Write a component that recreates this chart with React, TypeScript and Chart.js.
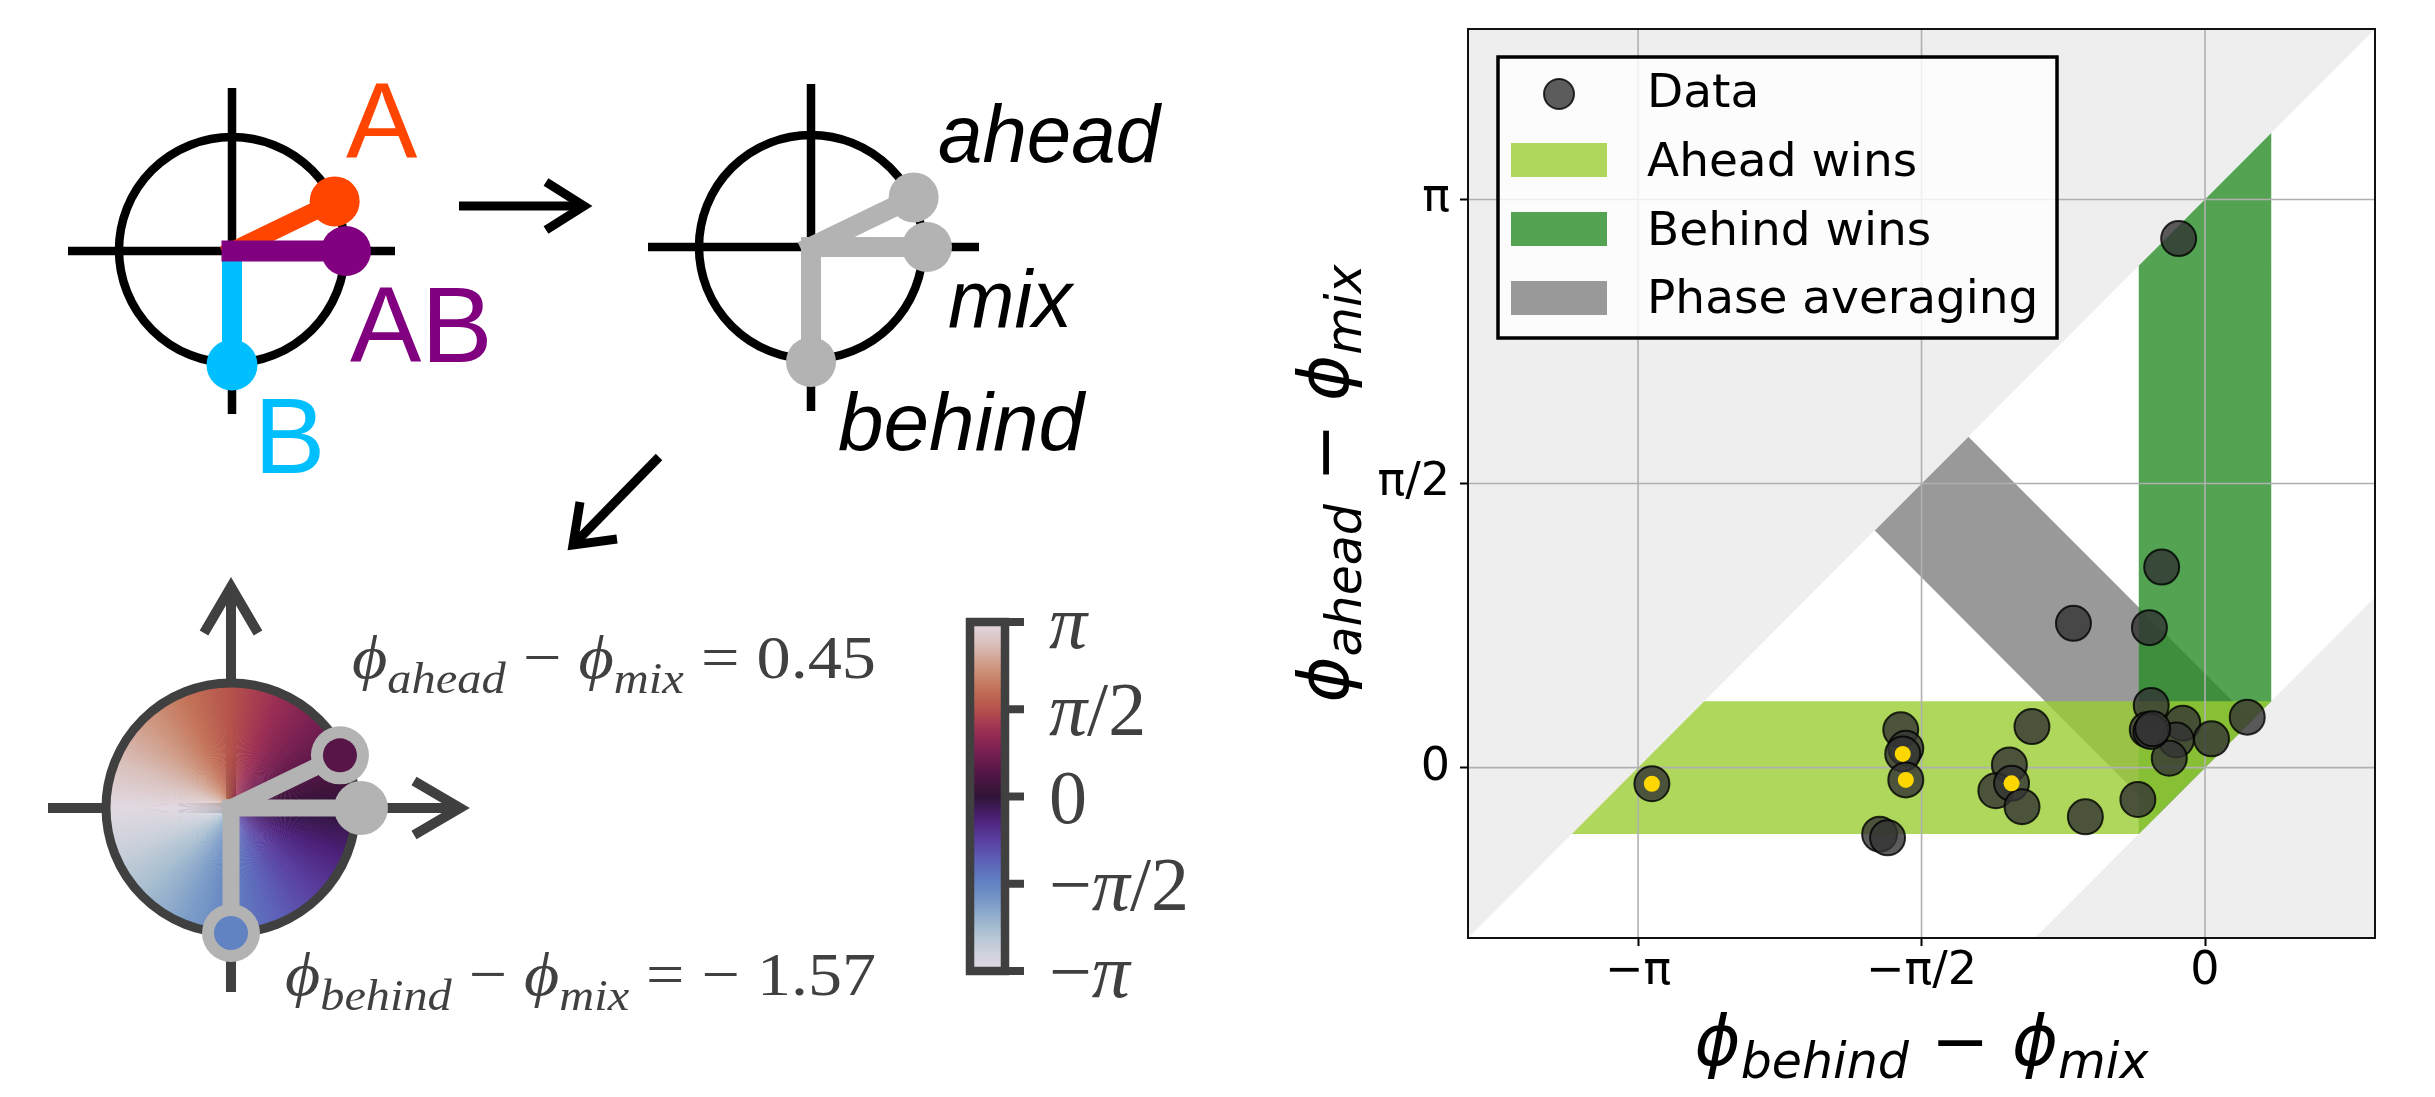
import React, { useEffect, useRef } from 'react';
import { Chart, registerables } from 'chart.js';

Chart.register(...registerables);

const PAGE_W = 2435;
const PAGE_H = 1097;

// ---------- scatter data (x = φ_behind − φ_mix, y = φ_ahead − φ_mix) ----------
const DATA_X = [-0.146, -0.240, -0.729, -0.308, -0.298, -0.123, 0.234, 0.036, -0.159, -0.198, -0.320, -0.300, -0.290, -0.372, -0.663, -0.959, -1.084, -1.159, -1.072, -1.014, -1.686, -1.658, -1.675, -1.658, -1.803, -1.759, -3.065];
const DATA_Y = [2.925, 1.109, 0.798, 0.774, 0.344, 0.246, 0.279, 0.159, 0.153, 0.052, 0.210, 0.200, 0.215, -0.176, -0.272, 0.227, 0.015, -0.128, -0.087, -0.216, 0.209, 0.107, 0.076, -0.068, -0.368, -0.388, -0.089];
const MARKED_X = [-3.065, -1.675, -1.658, -1.072];
const MARKED_Y = [-0.089, 0.076, -0.068, -0.087];

// ---------- region polygons ----------
const BG_UPPER_X = [0.942, -4.084, -4.084];
const BG_UPPER_Y = [4.084, 4.084, -0.942];
const BG_LOWER_X = [0.942, -0.942, 0.942];
const BG_LOWER_Y = [0.942, -0.942, -0.942];
const AHEAD_WINS_X = [0.367, -2.775, -3.509, -0.367];
const AHEAD_WINS_Y = [0.367, 0.367, -0.367, -0.367];
const BEHIND_WINS_X = [0.367, -0.367, -0.367, 0.367];
const BEHIND_WINS_Y = [0.367, -0.367, 2.775, 3.509];
const PHASE_AVG_X = [0.260, -1.311, -1.830, -0.260];
const PHASE_AVG_Y = [0.260, 1.830, 1.311, -0.260];

// ---------- axes ----------
const X_MIN = -4.084, X_MAX = 0.942;
const Y_MIN = -0.942, Y_MAX = 4.084;
const X_TICKS = [-3.14159, -1.5708, 0];
const X_TICK_LABELS = ['−π', '−π/2', '0'];
const Y_TICKS = [0, 1.5708, 3.14159];
const Y_TICK_LABELS = ['0', 'π/2', 'π'];
const LEGEND_LABELS = ['Data', 'Ahead wins', 'Behind wins', 'Phase averaging'];

// ---------- illustration values ----------
const AHEAD_PHASE = 0.45;
const BEHIND_PHASE = -1.57;
const CBAR_LABELS = [['', 'π', ''], ['', 'π', '/2'], ['0', '', ''], ['−', 'π', '/2'], ['−', 'π', '']];

const BG_FILL = '#eeeeee';
const PHASE_FILL = 'rgba(128,128,128,0.8)';
const BEHIND_FILL = 'rgba(40,140,40,0.8)';
const AHEAD_FILL = 'rgba(154,205,50,0.8)';
const POINT_FILL = 'rgba(51,51,51,0.8)';
const POINT_EDGE = 'rgba(0,0,0,0.8)';
const GRID = '#b0b0b0';

const TWILIGHT: [number, string][] = [
  [0.0, '#e2d9e2'], [0.063, '#c9d0da'], [0.125, '#a6bdd0'], [0.188, '#7f9fc8'],
  [0.25, '#6283c2'], [0.313, '#5d62b8'], [0.375, '#5a3fa0'], [0.438, '#4c2078'],
  [0.5, '#2f1436'], [0.563, '#521545'], [0.625, '#771f52'], [0.688, '#9b2e54'],
  [0.75, '#b5524c'], [0.813, '#c47459'], [0.875, '#cf9a85'], [0.938, '#d9c0bb'],
  [1.0, '#e2d9e2'],
];

function hexRgb(h: string) {
  return [parseInt(h.slice(1, 3), 16), parseInt(h.slice(3, 5), 16), parseInt(h.slice(5, 7), 16)];
}
function cmap(t: number): string {
  t = Math.min(1, Math.max(0, t));
  for (let i = 0; i < TWILIGHT.length - 1; i++) {
    const [t0, c0] = TWILIGHT[i];
    const [t1, c1] = TWILIGHT[i + 1];
    if (t <= t1) {
      const f = (t - t0) / (t1 - t0);
      const a = hexRgb(c0), b = hexRgb(c1);
      return `rgb(${Math.round(a[0] + (b[0] - a[0]) * f)},${Math.round(a[1] + (b[1] - a[1]) * f)},${Math.round(a[2] + (b[2] - a[2]) * f)})`;
    }
  }
  return TWILIGHT[TWILIGHT.length - 1][1];
}
const phaseColor = (p: number) => cmap((p + Math.PI) / (2 * Math.PI));

const toPoints = (xs: number[], ys: number[]) => xs.map((x, i) => ({ x, y: ys[i] }));

type Piece = { t: string; font: string; dy?: number };

function drawPieces(ctx: CanvasRenderingContext2D, pieces: Piece[], x: number, y: number, align: 'left' | 'right' | 'center', color: string, width?: number) {
  let natural = 0;
  for (const p of pieces) { ctx.font = p.font; natural += ctx.measureText(p.t).width; }
  const sx = width ? width / natural : 1;
  const total = natural * sx;
  const start = align === 'left' ? x : align === 'right' ? x - total : x - total / 2;
  ctx.save();
  ctx.translate(start, y);
  ctx.scale(sx, 1);
  ctx.fillStyle = color;
  ctx.textAlign = 'left';
  ctx.textBaseline = 'alphabetic';
  let cx = 0;
  for (const p of pieces) {
    ctx.font = p.font;
    ctx.fillText(p.t, cx, p.dy || 0);
    cx += ctx.measureText(p.t).width;
  }
  ctx.restore();
}

function seg(ctx: CanvasRenderingContext2D, x1: number, y1: number, x2: number, y2: number) {
  ctx.beginPath(); ctx.moveTo(x1, y1); ctx.lineTo(x2, y2); ctx.stroke();
}
function poly(ctx: CanvasRenderingContext2D, pts: number[][]) {
  ctx.beginPath(); ctx.moveTo(pts[0][0], pts[0][1]);
  for (let i = 1; i < pts.length; i++) ctx.lineTo(pts[i][0], pts[i][1]);
  ctx.stroke();
}
function disc(ctx: CanvasRenderingContext2D, x: number, y: number, r: number, color: string) {
  ctx.beginPath(); ctx.arc(x, y, r, 0, Math.PI * 2); ctx.fillStyle = color; ctx.fill();
}
function phasor(ctx: CanvasRenderingContext2D, cx: number, cy: number, ang: number, len: number, w: number, color: string, r: number) {
  const ex = cx + len * Math.cos(ang), ey = cy - len * Math.sin(ang);
  ctx.strokeStyle = color; ctx.lineWidth = w; ctx.lineCap = 'square';
  seg(ctx, cx, cy, ex, ey);
  ctx.lineCap = 'butt';
  disc(ctx, ex, ey, r, color);
  return [ex, ey];
}

const SANS = "'Liberation Sans', Arial, sans-serif";
const SERIF = "'Liberation Serif', 'DejaVu Serif', serif";
const MATH = "'DejaVu Sans', sans-serif";

function drawIllustrations(ctx: CanvasRenderingContext2D) {
  ctx.save();
  ctx.lineJoin = 'miter';
  ctx.textBaseline = 'alphabetic';
  ctx.textAlign = 'left';

  // ---- diagram 1 ----
  ctx.strokeStyle = '#000'; ctx.lineWidth = 8.5; ctx.lineCap = 'butt';
  seg(ctx, 68, 251, 395, 251);
  seg(ctx, 232, 88, 232, 414);
  ctx.beginPath(); ctx.arc(232, 250, 113, 0, Math.PI * 2); ctx.stroke();
  phasor(ctx, 232, 251, AHEAD_PHASE, 114, 18, '#ff4500', 25);
  phasor(ctx, 232, 251, -Math.PI / 2, 114, 20, '#00bfff', 25.5);
  phasor(ctx, 232, 251, 0, 114, 21, '#800080', 25);
  ctx.font = `107px ${SANS}`;
  ctx.fillStyle = '#ff4500'; ctx.fillText('A', 346, 158);
  ctx.fillStyle = '#800080'; ctx.fillText('AB', 350, 362);
  ctx.fillStyle = '#00bfff'; ctx.fillText('B', 254, 473);

  // arrow →
  ctx.strokeStyle = '#000'; ctx.lineWidth = 9;
  seg(ctx, 459, 206, 580, 206);
  poly(ctx, [[546, 182], [584, 206], [546, 230]]);

  // ---- diagram 2 ----
  ctx.strokeStyle = '#000'; ctx.lineWidth = 8.5;
  seg(ctx, 648, 247, 979, 247);
  seg(ctx, 811, 84, 811, 411);
  ctx.beginPath(); ctx.arc(811, 247, 112, 0, Math.PI * 2); ctx.stroke();
  phasor(ctx, 811, 247, AHEAD_PHASE, 114, 20, '#b3b3b3', 25);
  phasor(ctx, 811, 247, -Math.PI / 2, 115, 20, '#b3b3b3', 25);
  phasor(ctx, 811, 247, 0, 116, 20, '#b3b3b3', 25);
  drawPieces(ctx, [{ t: 'ahead', font: `italic 82px ${SANS}` }], 938, 162, 'left', '#000', 222);
  drawPieces(ctx, [{ t: 'mix', font: `italic 82px ${SANS}` }], 948, 327, 'left', '#000', 124);
  drawPieces(ctx, [{ t: 'behind', font: `italic 82px ${SANS}` }], 838, 450, 'left', '#000', 246);

  // arrow ↙
  ctx.strokeStyle = '#000'; ctx.lineWidth = 9;
  seg(ctx, 659, 457, 576, 542);
  poly(ctx, [[580, 502], [573, 545], [617, 539]]);

  // ---- diagram 3 ----
  const cx = 231, cy = 808, R = 125;
  ctx.strokeStyle = '#404040'; ctx.lineWidth = 10;
  seg(ctx, 48, cy, 455, cy);
  poly(ctx, [[414, 781], [460, cy], [414, 835]]);
  seg(ctx, cx, 992, cx, 592);
  poly(ctx, [[204, 633], [cx, 587], [258, 633]]);
  const N = 360;
  for (let i = 0; i < N; i++) {
    const th0 = -Math.PI + (2 * Math.PI * i) / N;
    const th1 = th0 + (2 * Math.PI) / N;
    ctx.beginPath();
    ctx.moveTo(cx, cy);
    ctx.arc(cx, cy, R, -th1 - 0.004, -th0 + 0.004);
    ctx.closePath();
    ctx.fillStyle = cmap((i + 0.5) / N);
    ctx.fill();
  }
  ctx.strokeStyle = '#404040'; ctx.lineWidth = 9;
  ctx.beginPath(); ctx.arc(cx, cy, R, 0, Math.PI * 2); ctx.stroke();
  const [ax, ay] = phasor(ctx, cx, cy, AHEAD_PHASE, 121, 17, '#b3b3b3', 29);
  disc(ctx, ax, ay, 17, phaseColor(AHEAD_PHASE));
  const [bx, by] = phasor(ctx, cx, cy, -Math.PI / 2, 125, 17, '#b3b3b3', 29);
  disc(ctx, bx, by, 17, phaseColor(BEHIND_PHASE));
  phasor(ctx, cx, cy, 0, 130, 17, '#b3b3b3', 27);

  const main = `62px ${SERIF}`;
  const it = `italic 62px ${SERIF}`;
  const sub = `italic 44px ${SERIF}`;
  drawPieces(ctx, [
    { t: 'ϕ', font: it }, { t: 'ahead', font: sub, dy: 15 }, { t: ' − ', font: main },
    { t: 'ϕ', font: it }, { t: 'mix', font: sub, dy: 15 }, { t: ' = ' + AHEAD_PHASE.toFixed(2), font: main },
  ], 876, 678, 'right', '#404040', 524);
  drawPieces(ctx, [
    { t: 'ϕ', font: it }, { t: 'behind', font: sub, dy: 15 }, { t: ' − ', font: main },
    { t: 'ϕ', font: it }, { t: 'mix', font: sub, dy: 15 }, { t: ' = − ' + Math.abs(BEHIND_PHASE).toFixed(2), font: main },
  ], 876, 995, 'right', '#404040', 591);

  // ---- colorbar ----
  const cbL = 970, cbR = 1005, cbT = 622, cbB = 971;
  const grad = ctx.createLinearGradient(0, cbT, 0, cbB);
  for (let s = 0; s <= 1.0001; s += 0.025) grad.addColorStop(Math.min(1, s), cmap(1 - s));
  ctx.fillStyle = grad;
  ctx.fillRect(cbL, cbT, cbR - cbL, cbB - cbT);
  ctx.strokeStyle = '#404040'; ctx.lineWidth = 8.5;
  ctx.strokeRect(cbL, cbT, cbR - cbL, cbB - cbT);
  ctx.lineWidth = 8;
  for (let i = 0; i < CBAR_LABELS.length; i++) {
    const ty = cbT + ((cbB - cbT) * i) / (CBAR_LABELS.length - 1);
    seg(ctx, cbR, ty, 1024, ty);
    const [pre, pi, post] = CBAR_LABELS[i];
    const pieces: Piece[] = [];
    if (pre) pieces.push({ t: pre, font: `76px ${SERIF}` });
    if (pi) pieces.push({ t: pi, font: `italic 76px ${SERIF}` });
    if (post) pieces.push({ t: post, font: `76px ${SERIF}` });
    drawPieces(ctx, pieces, 1049, ty + 26, 'left', '#404040');
  }
  ctx.restore();
}

function drawLegend(ctx: CanvasRenderingContext2D, area: { left: number; top: number }) {
  const lx = area.left + 30, ly = area.top + 28, lw = 559, lh = 281;
  ctx.save();
  ctx.fillStyle = 'rgba(255,255,255,0.8)';
  ctx.fillRect(lx, ly, lw, lh);
  ctx.lineWidth = 3.5; ctx.strokeStyle = '#000';
  ctx.strokeRect(lx, ly, lw, lh);
  ctx.beginPath(); ctx.arc(lx + 61, ly + 37, 15, 0, Math.PI * 2);
  ctx.fillStyle = POINT_FILL; ctx.fill();
  ctx.lineWidth = 2; ctx.strokeStyle = POINT_EDGE; ctx.stroke();
  const fills = [AHEAD_FILL, BEHIND_FILL, PHASE_FILL];
  const rows = [86, 155, 224];
  fills.forEach((f, i) => { ctx.fillStyle = f; ctx.fillRect(lx + 13, ly + rows[i], 96, 34); });
  ctx.fillStyle = '#000';
  ctx.font = `47px ${MATH}`;
  ctx.textAlign = 'left'; ctx.textBaseline = 'alphabetic';
  const base = [50, 119, 188, 256];
  LEGEND_LABELS.forEach((l, i) => ctx.fillText(l, lx + 149, ly + base[i]));
  ctx.restore();
}

function drawAxisTitles(ctx: CanvasRenderingContext2D, area: { left: number; right: number; top: number; bottom: number }) {
  const big = `italic 70px ${MATH}`;
  const small = `italic 49px ${MATH}`;
  const op = `70px ${MATH}`;
  drawPieces(ctx, [
    { t: 'ϕ', font: big }, { t: 'behind', font: small, dy: 13 }, { t: ' − ', font: op },
    { t: 'ϕ', font: big }, { t: 'mix', font: small, dy: 13 },
  ], (area.left + area.right) / 2, area.bottom + 127, 'center', '#000');
  ctx.save();
  ctx.translate(area.left - 120, (area.top + area.bottom) / 2);
  ctx.rotate(-Math.PI / 2);
  drawPieces(ctx, [
    { t: 'ϕ', font: big }, { t: 'ahead', font: small, dy: 13 }, { t: ' − ', font: op },
    { t: 'ϕ', font: big }, { t: 'mix', font: small, dy: 13 },
  ], 0, 0, 'center', '#000');
  ctx.restore();
}

const figurePlugin = {
  id: 'figurePlugin',
  afterDatasetDraw(chart: any, args: any) {
    if (chart.data.datasets[args.index].label !== 'Ahead wins') return;
    const ctx: CanvasRenderingContext2D = chart.ctx;
    const { left, right, top, bottom } = chart.chartArea;
    const xs = chart.scales.x, ys = chart.scales.y;
    ctx.save();
    ctx.strokeStyle = GRID; ctx.lineWidth = 1.6;
    X_TICKS.forEach((v) => { const p = xs.getPixelForValue(v); seg(ctx, p, top, p, bottom); });
    Y_TICKS.forEach((v) => { const p = ys.getPixelForValue(v); seg(ctx, left, p, right, p); });
    ctx.restore();
  },
  afterDraw(chart: any) {
    const ctx: CanvasRenderingContext2D = chart.ctx;
    const area = chart.chartArea;
    ctx.save();
    ctx.strokeStyle = '#111'; ctx.lineWidth = 2;
    ctx.strokeRect(area.left, area.top, area.right - area.left, area.bottom - area.top);
    ctx.restore();
    drawLegend(ctx, area);
    drawAxisTitles(ctx, area);
    drawIllustrations(ctx);
  },
};

const polygonDataset = (label: string, xs: number[], ys: number[], color: string, order: number) => ({
  type: 'line' as const,
  label,
  data: toPoints(xs, ys),
  fill: 'shape',
  backgroundColor: color,
  borderColor: 'rgba(0,0,0,0)',
  borderWidth: 0,
  pointRadius: 0,
  tension: 0,
  order,
});

export default function App() {
  const ref = useRef<HTMLCanvasElement>(null);
  useEffect(() => {
    const canvas = ref.current;
    if (!canvas) return;
    const chart = new Chart(canvas, {
      type: 'scatter',
      data: {
        datasets: [
          {
            type: 'scatter',
            label: 'Marked',
            data: toPoints(MARKED_X, MARKED_Y),
            backgroundColor: '#ffd700',
            borderWidth: 0,
            pointRadius: 8,
            order: 1,
          },
          {
            type: 'scatter',
            label: 'Data',
            data: toPoints(DATA_X, DATA_Y),
            backgroundColor: POINT_FILL,
            borderColor: POINT_EDGE,
            borderWidth: 2,
            pointRadius: 17.5,
            order: 2,
          },
          polygonDataset('Ahead wins', AHEAD_WINS_X, AHEAD_WINS_Y, AHEAD_FILL, 3),
          polygonDataset('Behind wins', BEHIND_WINS_X, BEHIND_WINS_Y, BEHIND_FILL, 4),
          polygonDataset('Phase averaging', PHASE_AVG_X, PHASE_AVG_Y, PHASE_FILL, 5),
          polygonDataset('bg lower', BG_LOWER_X, BG_LOWER_Y, BG_FILL, 6),
          polygonDataset('bg upper', BG_UPPER_X, BG_UPPER_Y, BG_FILL, 7),
        ] as any,
      },
      options: {
        responsive: false,
        animation: false,
        devicePixelRatio: 1,
        events: [],
        layout: { padding: { left: 1318, right: 60, top: 29, bottom: 0 } },
        plugins: { legend: { display: false }, tooltip: { enabled: false }, title: { display: false } },
        scales: {
          x: {
            type: 'linear',
            min: X_MIN,
            max: X_MAX,
            afterBuildTicks: (s: any) => { s.ticks = X_TICKS.map((v) => ({ value: v })); },
            afterFit: (s: any) => { s.height = 159; s.paddingLeft = 0; s.paddingRight = 0; },
            ticks: {
              callback: (_v: any, i: number) => X_TICK_LABELS[i],
              font: { family: 'DejaVu Sans', size: 46, lineHeight: 1 },
              color: '#000',
              padding: 3,
              maxRotation: 0,
              autoSkip: false,
            },
            grid: { drawOnChartArea: false, drawTicks: true, tickLength: 8, tickWidth: 2, tickColor: '#000' },
            border: { display: false },
          },
          y: {
            type: 'linear',
            min: Y_MIN,
            max: Y_MAX,
            afterBuildTicks: (s: any) => { s.ticks = Y_TICKS.map((v) => ({ value: v })); },
            afterFit: (s: any) => { s.width = 150; s.paddingTop = 0; s.paddingBottom = 0; },
            ticks: {
              callback: (_v: any, i: number) => Y_TICK_LABELS[i],
              font: { family: 'DejaVu Sans', size: 46, lineHeight: 1 },
              color: '#000',
              padding: 10,
              autoSkip: false,
            },
            grid: { drawOnChartArea: false, drawTicks: true, tickLength: 8, tickWidth: 2, tickColor: '#000' },
            border: { display: false },
          },
        },
      } as any,
      plugins: [figurePlugin],
    });
    return () => chart.destroy();
  }, []);
  return (
    <div style={{ position: 'absolute', left: 0, top: 0, width: PAGE_W, height: PAGE_H, background: '#fff' }}>
      <canvas ref={ref} width={PAGE_W} height={PAGE_H} style={{ display: 'block', width: PAGE_W, height: PAGE_H }} />
    </div>
  );
}
